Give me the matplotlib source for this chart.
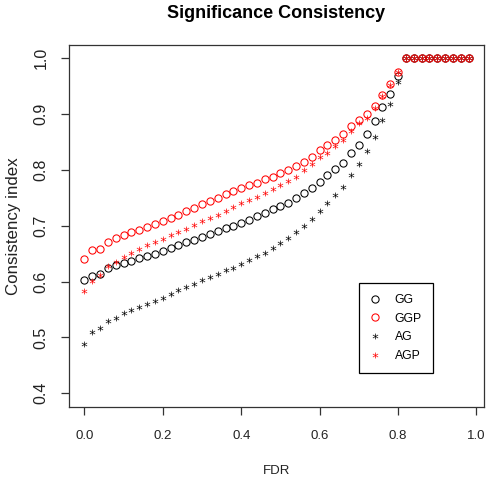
import numpy as np
import matplotlib
matplotlib.use("Agg")
import matplotlib.pyplot as plt

plt.rcParams["font.family"] = ["Liberation Sans", "DejaVu Sans"]

# FDR grid (0 .. 0.98, step 0.02)
fdr = np.round(np.arange(50) * 0.02, 2)

ones = [1.0] * 9
gg = [0.602, 0.610, 0.614, 0.624, 0.629, 0.633, 0.637, 0.642, 0.645, 0.649,
      0.655, 0.660, 0.665, 0.670, 0.675, 0.680, 0.685, 0.690, 0.695, 0.700,
      0.705, 0.711, 0.717, 0.723, 0.729, 0.735, 0.741, 0.749, 0.758, 0.767,
      0.778, 0.790, 0.801, 0.813, 0.830, 0.845, 0.864, 0.887, 0.912, 0.936,
      0.968] + ones
ggp = [0.641, 0.656, 0.658, 0.671, 0.678, 0.684, 0.688, 0.693, 0.698, 0.703,
       0.708, 0.714, 0.720, 0.726, 0.732, 0.738, 0.744, 0.750, 0.756, 0.762,
       0.767, 0.772, 0.777, 0.783, 0.788, 0.794, 0.800, 0.806, 0.814, 0.823,
       0.836, 0.845, 0.854, 0.865, 0.879, 0.890, 0.900, 0.915, 0.934, 0.953,
       0.976] + ones
ag = [0.489, 0.510, 0.517, 0.530, 0.535, 0.543, 0.549, 0.555, 0.559, 0.566,
      0.571, 0.578, 0.585, 0.590, 0.596, 0.602, 0.608, 0.614, 0.620, 0.625,
      0.631, 0.638, 0.645, 0.652, 0.660, 0.669, 0.678, 0.689, 0.700, 0.712,
      0.726, 0.741, 0.755, 0.770, 0.790, 0.810, 0.833, 0.859, 0.890, 0.918,
      0.958] + ones
agp = [0.583, 0.601, 0.612, 0.627, 0.635, 0.644, 0.652, 0.659, 0.665, 0.671,
       0.677, 0.683, 0.688, 0.694, 0.702, 0.708, 0.714, 0.720, 0.726, 0.733,
       0.740, 0.746, 0.752, 0.759, 0.766, 0.773, 0.780, 0.788, 0.799, 0.811,
       0.823, 0.831, 0.842, 0.853, 0.869, 0.883, 0.893, 0.910, 0.932, 0.952,
       0.975] + ones

x_ticks = [0.0, 0.2, 0.4, 0.6, 0.8, 1.0]
y_ticks = [0.4, 0.5, 0.6, 0.7, 0.8, 0.9, 1.0]

fig = plt.figure(figsize=(4.89, 4.80), dpi=100)
ax = fig.add_axes([69 / 489, 1 - 406.7 / 480, 415 / 489, 362 / 480])

circ = dict(marker="o", linestyle="none", markerfacecolor="none",
            markersize=5.2, markeredgewidth=0.75)
star = dict(marker="$*$", linestyle="none", markersize=4.2, markeredgewidth=0)

ax.plot(fdr, gg, color="black", label="GG", **circ)
ax.plot(fdr, ggp, color="red", label="GGP", **circ)
ax.plot(fdr, ag, color="black", label="AG", **star)
ax.plot(fdr, agp, color="red", label="AGP", **star)

# R style: 4% padding around data range
ax.set_xlim(-0.0392, 1.0192)
ax.set_ylim(0.376, 1.024)
ax.set_xticks(x_ticks)
ax.set_xticklabels([f"{v:.1f}" for v in x_ticks])
ax.set_yticks(y_ticks)
ax.set_yticklabels([f"{v:.1f}" for v in y_ticks], rotation=90, va="center")

for s in ax.spines.values():
    s.set_color("#333333")
    s.set_linewidth(0.9)
ax.tick_params(direction="out", length=5.5, width=0.9, color="#333333",
               labelcolor="#222222")
ax.tick_params(axis="x", pad=11, labelsize=9.5)
ax.tick_params(axis="y", pad=9, labelsize=11.5)

ax.set_xlabel("FDR", fontsize=9.5, color="#222222", labelpad=17)
ax.set_ylabel("Consistency index", fontsize=12.2, color="#222222", labelpad=9)
ax.set_title("Significance Consistency", fontsize=13, fontweight="bold",
             pad=19)

leg = ax.legend(loc="upper left", bbox_to_anchor=(0.699, 0.342),
                borderaxespad=0, fancybox=False, edgecolor="black",
                fontsize=8.8, handlelength=0.8, handletextpad=1.2,
                labelspacing=0.55, borderpad=0.9, framealpha=1)
leg.get_frame().set_linewidth(0.9)

fig.savefig("out.png", dpi=100)
